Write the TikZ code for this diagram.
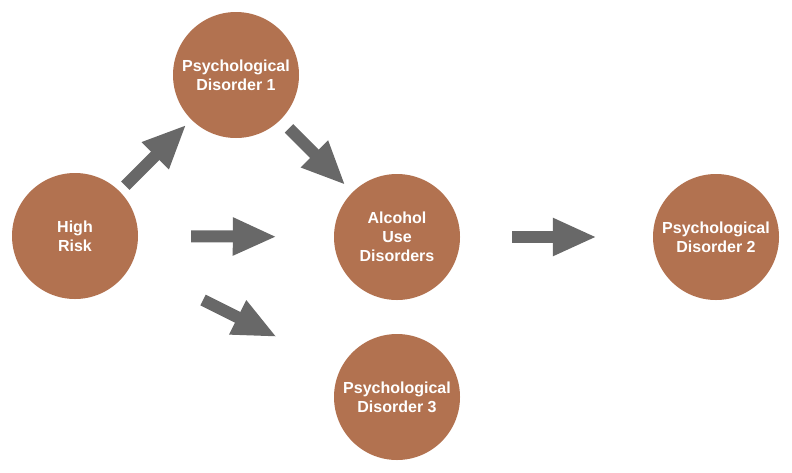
\documentclass[tikz,border=0pt]{standalone}
\usepackage{fontspec}
\setmainfont{Liberation Sans}
\usetikzlibrary{arrows.meta}
\definecolor{disc}{RGB}{178,114,80}
\definecolor{arr}{RGB}{104,104,104}
\tikzset{
  circ/.style={circle, fill=disc, draw=none, minimum size=126pt, inner sep=0pt,
    text=white, font=\fontsize{16pt}{19pt}\selectfont\bfseries, align=center},
  blk/.style={draw=arr, line width=12pt, -{Triangle[length=44pt, width=35pt]}}
}
\begin{document}
\begin{tikzpicture}[x=1pt, y=-1pt]
\useasboundingbox (0,0) rectangle (792,472);
\node[circ] (hr) at (75,236) {High\\Risk};
\node[circ] (pd1) at (236,75) {Psychological\\Disorder 1};
\node[circ] (aud) at (397,237) {Alcohol\\Use\\Disorders};
\node[circ] (pd2) at (716,237) {Psychological\\Disorder 2};
\node[circ] (pd3) at (397,397) {Psychological\\Disorder 3};
\draw[blk, shorten <=8pt, shorten >=7pt] (hr) -- (pd1);
\draw[blk, shorten <=12pt, shorten >=10pt] (pd1) -- (aud);
\draw[blk, shorten <=53pt, shorten >=57pt] (hr.east) -- (aud.west);
\draw[blk, shorten <=80pt, shorten >=71pt] (hr) -- (pd3);
\draw[blk, shorten <=52pt, shorten >=56pt] (aud.east) -- (pd2.west);
\end{tikzpicture}
\end{document}
